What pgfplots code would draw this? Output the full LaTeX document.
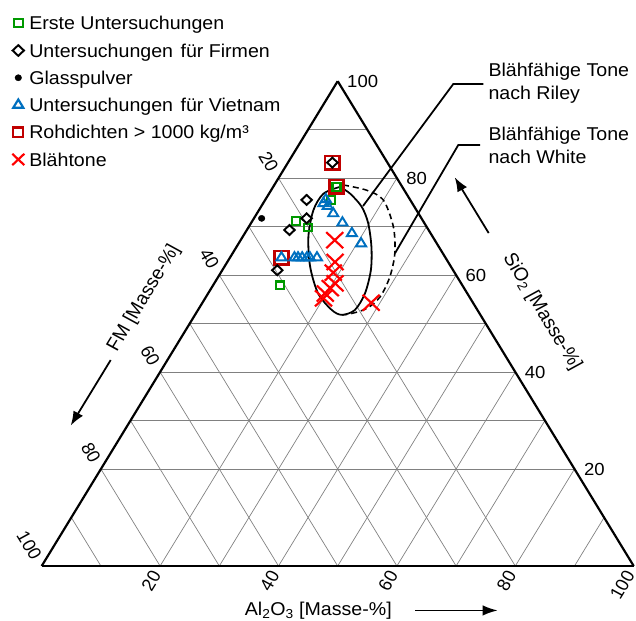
\documentclass[border=0pt]{standalone}
\usepackage{fontspec}
\setmainfont{Liberation Sans}
\usepackage{graphicx}
\usepackage{pgfplots}
\pgfplotsset{compat=1.18}
\usepgfplotslibrary{ternary}
\usetikzlibrary{arrows.meta}
\definecolor{cgreen}{RGB}{0,153,0}
\definecolor{cblue}{RGB}{0,112,192}
\definecolor{cdred}{RGB}{192,0,0}
\definecolor{cred}{RGB}{255,0,0}
\newcommand\lfont{\fontsize{19.6}{23}\selectfont}
\pgfplotsset{
  myleg/.style={legend image code/.code={%
    \draw[##1] plot coordinates {(0pt,0pt)};
    \path[draw=none, fill=none] (-6pt,-6pt) rectangle (6pt,6pt);}},
}
\begin{document}
\scalebox{1}[0.9457]{%
\begin{tikzpicture}
\begin{ternaryaxis}[
  ternary limits relative=false,
  xmin=0, xmax=100, ymin=0, ymax=100, zmin=0, zmax=100,
  width=592pt, height=512.7pt, scale only axis, clip=false,
  xtick={20,40,60,80,100}, ytick={20,40,60,80,100}, ztick={20,40,60,80,100},
  minor tick num=1, grid=both,
  major tick length=0pt, minor tick length=0pt,
  grid style={line width=0.7pt, color=black!50},
  minor grid style={line width=0.7pt, color=black!50},
  axis line style={line width=2.2pt},
  /pgf/number format/assume math mode=true,
  tick label style={font=\fontsize{18.5}{20}\selectfont},
  xticklabel style={anchor=west, xshift=6pt},
  yticklabel style={rotate=-60, anchor=east, xshift=-6pt},
  zticklabel style={rotate=60, anchor=east, xshift=-4pt},
  myleg,
  legend cell align=left,
  legend style={at={(axis description cs:-0.0497,1.1369)}, anchor=north west,
    draw=none, fill=none, inner sep=0pt, outer sep=0pt,
    row sep=10.8pt, column sep=5pt, font=\lfont,
    nodes={inner sep=0pt, text height=16pt, text depth=2pt}},
]
% Blaehfaehige Tone nach Riley
\addplot3[forget plot, black, line width=1.8pt, smooth] coordinates {
  (78.2,10.5,11.3) (76.8,9.5,13.7) (74.1,8.9,17.0) (70.7,9.5,19.8)
  (65.8,11.4,22.8) (61.0,13.9,25.1) (56.2,17.3,26.5) (52.8,20.7,26.5)
  (51.8,23.4,24.8) (52.8,24.6,22.6) (56.2,25.2,18.6) (61.7,23.8,14.5)
  (67.9,21.0,11.1) (73.4,17.4,9.2) (76.8,14.0,9.2) (78.2,10.5,11.3)};
% Blaehfaehige Tone nach White
\addplot3[forget plot, black, line width=1.6pt, dash pattern=on 6pt off 4pt, smooth] coordinates {
  (78.6,9.8,11.6) (77.5,6.35,16.15) (75.5,4.55,19.95) (70.0,5.6,24.4)
  (64.5,8.1,27.4) (59.6,11.4,29.0) (55.5,15.1,29.4) (53.1,18.55,28.35)
  (52.0,21.9,26.1) (51.8,23.4,24.8)};

% Rohdichten > 1000 kg/m3
\addplot3[forget plot, only marks, mark=square, cdred, line width=2.6pt, mark size=7.2pt] coordinates {
  (83.2,9.3,7.5) (78.2,11.1,10.7) (63.6,27.7,8.7)};
% Erste Untersuchungen
\addplot3[forget plot, only marks, mark=square, cgreen, line width=2.2pt, mark size=4pt] coordinates {
  (78.2,11.1,10.7) (71.2,21.4,7.4) (69.8,20.1,10.1) (75.5,13.4,11.1) (57.9,30.8,11.3)};
% Untersuchungen fuer Firmen
\addplot3[forget plot, only marks, mark=square, mark options={rotate=45}, black, line width=2pt, mark size=3.7pt] coordinates {
  (83.2,9.3,7.5) (75.5,17.5,7.0) (71.7,19.4,8.9) (69.3,23.5,7.2) (61.0,29.7,9.3)};
% Glasspulver
\addplot3[forget plot, only marks, mark=*, black, mark size=3.3pt] coordinates {
  (71.7,27.0,1.3)};
% Untersuchungen fuer Vietnam
\addplot3[forget plot, only marks, mark=triangle, cblue, line width=2pt, mark size=5.8pt] coordinates {
  (74.8,15.0,10.2) (75.6,14.2,10.2) (74.2,14.6,11.2) (72.7,14.4,12.9)
  (70.8,13.8,15.4) (68.6,13.3,18.1) (66.5,12.8,20.7)
  (63.6,27.7,8.7) (63.6,25.5,10.9) (63.6,24.9,11.5) (63.6,24.2,12.2)
  (63.6,23.4,13.0) (63.6,22.9,13.5) (63.6,21.7,14.7)};
% Blaehtone
\addplot3[forget plot, only marks, mark=x, cred, line width=2.2pt, mark size=12pt] coordinates {
  (67.2,16.9,15.9) (62.7,19.1,18.2) (60.5,20.5,19.0) (58.3,21.3,20.4)
  (57.3,22.6,20.1) (56.2,24.0,19.8) (55.2,24.8,20.0) (54.3,17.2,28.5)};

\addlegendimage{mark=square, cgreen, line width=2.2pt, mark size=4.4pt}
\addlegendentry{Erste Untersuchungen}
\addlegendimage{mark=square, mark options={rotate=45}, black, line width=2pt, mark size=4pt}
\addlegendentry{Untersuchungen\hspace{0.38em}für Firmen}
\addlegendimage{mark=*, black, mark size=3.3pt}
\addlegendentry{Glasspulver}
\addlegendimage{mark=triangle, cblue, line width=2.2pt, mark size=5.8pt}
\addlegendentry{Untersuchungen\hspace{0.38em}für Vietnam}
\addlegendimage{mark=square, cdred, line width=2.4pt, mark size=5pt}
\addlegendentry{Rohdichten > 1000 kg/m³}
\addlegendimage{mark=x, cred, line width=2.2pt, mark size=8.5pt}
\addlegendentry{Blähtone}

\coordinate (L) at (axis cs:0,100,0);
\end{ternaryaxis}
\begin{scope}[shift={(L)}, x=1pt, y=1pt]
  \draw[line width=1.8pt] (441.6,509.7) -- (411.6,509.7) -- (321.3,380.6);
  \draw[line width=1.8pt] (438.3,445.2) -- (416.6,445.2) -- (353.3,330.7);
  \node[anchor=base west, inner sep=0pt, font=\lfont] at (446.6,518.1) {Blähfähige Tone};
  \node[anchor=base west, inner sep=0pt, font=\lfont] at (446.6,492.8) {nach Riley};
  \node[anchor=base west, inner sep=0pt, font=\lfont] at (446.6,449.4) {Blähfähige Tone};
  \node[anchor=base west, inner sep=0pt, font=\lfont] at (446.6,425.8) {nach White};
  \node[rotate=-60, inner sep=0pt, font=\lfont] at (500.3,268.6) {SiO\textsubscript{2} [Masse-\%]};
  \node[rotate=60, inner sep=0pt, font=\lfont] at (102.3,283.4) {FM [Masse-\%]};
  \node[inner sep=0pt, font=\lfont] at (276.6,-47.5) {Al\textsubscript{2}O\textsubscript{3} [Masse-\%]};
  \draw[line width=1.8pt, -{Latex[length=15pt,width=11pt]}] (447,352) -- (413,411);
  \draw[line width=1.8pt, -{Latex[length=15pt,width=11pt]}] (69,217.8) -- (29,148.5);
  \draw[line width=1.8pt, -{Latex[length=15pt,width=11pt]}] (373.3,-47) -- (456,-47);
  \pgfresetboundingbox
  \path[use as bounding box] (-41.7,-57.1) rectangle (594.3,598.5);
\end{scope}
\end{tikzpicture}}
\end{document}
